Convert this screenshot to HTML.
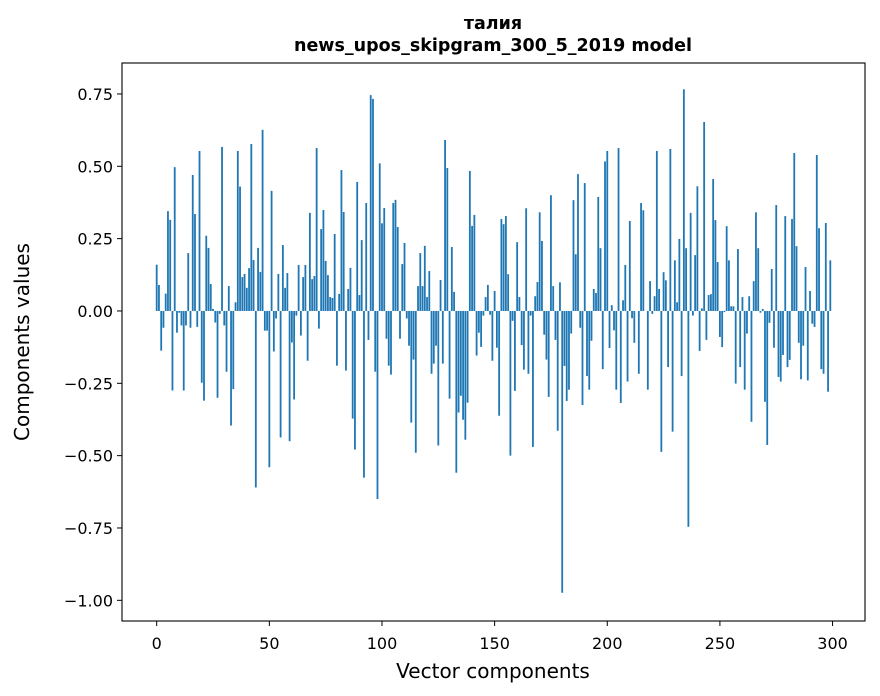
<!DOCTYPE html>
<html><head><meta charset="utf-8"><style>
html,body{margin:0;padding:0;background:#fff;}
svg{display:block;font-family:"DejaVu Sans","Liberation Sans",sans-serif;}
</style></head><body>
<svg id="chart" width="880" height="696" viewBox="0 0 880 696" xmlns="http://www.w3.org/2000/svg">
<rect x="0" y="0" width="880" height="696" fill="#fff"/>
<text x="493" y="29" text-anchor="middle" font-size="17.5" font-weight="bold">талия</text>
<text x="493" y="51" text-anchor="middle" font-size="17.5" font-weight="bold">news_upos_skipgram_300_5_2019 model</text>
<g id="bars"></g>
<g id="xticks"></g>
<g id="yticks"></g>
<rect x="122" y="63" width="743" height="558" fill="none" stroke="#000" stroke-width="1.1"/>
<text x="493" y="678" text-anchor="middle" font-size="20">Vector components</text>
<text x="29" y="342" text-anchor="middle" font-size="20" transform="rotate(-90 29 342)">Components values</text>
</svg>
<script>
const values = [
0.16,0.09,-0.137,-0.058,0.06,0.345,0.315,-0.275,0.497,-0.075,
-0.006,-0.05,-0.275,-0.05,0.2,-0.058,0.47,0.335,-0.055,0.553,
-0.248,-0.31,0.26,0.218,0.093,0.007,-0.04,-0.3,-0.01,0.567,
-0.05,-0.21,0.086,-0.396,-0.27,0.03,0.553,0.43,0.117,0.128,
0.08,0.148,0.577,0.176,-0.61,0.218,0.135,0.626,-0.068,-0.068,
-0.54,0.415,-0.14,-0.026,0.128,-0.437,0.228,0.08,0.131,-0.45,
-0.109,-0.306,-0.016,0.159,-0.085,0.117,0.159,-0.172,0.339,0.11,
0.121,0.563,-0.061,0.283,0.349,0.173,0.124,0.048,0.045,0.266,
-0.189,0.059,0.487,0.342,-0.206,0.076,0.149,-0.372,-0.479,0.446,
0.055,0.245,-0.576,0.373,-0.1,0.746,0.733,-0.21,-0.65,0.51,
0.303,0.356,-0.096,-0.189,-0.22,0.373,0.384,0.29,-0.096,0.162,
0.235,-0.026,-0.12,-0.386,-0.168,-0.49,0.086,0.2,0.086,0.225,
0.048,0.138,-0.217,-0.182,-0.12,-0.465,0.107,-0.182,0.591,0.494,
-0.303,0.221,0.066,-0.559,-0.351,-0.293,-0.376,-0.445,-0.317,0.484,
0.294,0.332,-0.154,-0.075,-0.124,-0.016,0.048,0.09,-0.013,-0.172,
0.069,-0.127,-0.362,0.318,0.30,0.328,0.127,-0.5,-0.034,-0.276,
0.238,0.048,-0.118,-0.203,0.355,-0.217,-0.016,-0.47,0.051,0.1,
0.341,0.242,-0.082,-0.168,-0.297,0.4,0.086,-0.1,-0.414,0.099,
-0.974,-0.19,-0.311,-0.272,-0.078,0.383,0.196,0.473,-0.058,-0.325,
0.442,-0.225,-0.272,-0.103,0.076,0.062,0.394,0.217,-0.201,0.517,
0.553,-0.128,0.02,-0.067,-0.272,0.563,-0.318,0.037,0.159,-0.244,
0.311,-0.025,-0.11,0.0,-0.217,0.373,0.348,0.0,-0.272,0.103,
-0.01,0.051,0.553,0.076,-0.487,0.134,0.106,-0.194,0.56,-0.417,
0.175,0.03,0.249,-0.225,0.766,0.217,-0.746,0.339,-0.016,0.193,
0.431,-0.138,0.009,0.653,-0.1,0.055,0.058,0.456,0.314,0.169,
-0.09,-0.125,-0.004,0.293,0.175,0.016,0.016,-0.251,0.214,-0.194,
0.048,-0.272,-0.078,0.051,-0.383,0.103,0.341,0.217,-0.006,0.007,
-0.314,-0.463,-0.041,0.145,-0.127,0.366,-0.228,-0.244,-0.152,0.328,
-0.194,-0.169,0.318,0.546,0.224,-0.11,-0.236,-0.12,0.152,-0.24,
0.069,-0.044,-0.055,0.539,0.286,-0.201,-0.217,0.304,-0.279,0.175
];
const xTicks = [0,50,100,150,200,250,300];
const yTicks = [0.75,0.5,0.25,0,-0.25,-0.5,-0.75,-1.0];
const yTickLabels = ["0.75","0.50","0.25","0.00","\u22120.25","\u22120.50","\u22120.75","\u22121.00"];

const L=122,R=865,T=63,B=621;
const xMin=-15.4,xMax=314.4,yMax=0.857,yMin=-1.0715;
const xs=v=>L+(v-xMin)/(xMax-xMin)*(R-L);
const ys=v=>T+(yMax-v)/(yMax-yMin)*(B-T);
const NS="http://www.w3.org/2000/svg";
const gb=document.getElementById('bars');
values.forEach((v,i)=>{
  const r=document.createElementNS(NS,'rect');
  const x0=xs(i-0.4),x1=xs(i+0.4);
  const y0=ys(Math.max(v,0)),y1=ys(Math.min(v,0));
  r.setAttribute('x',x0);r.setAttribute('width',x1-x0);
  r.setAttribute('y',y0);r.setAttribute('height',Math.max(y1-y0,0.01));
  r.setAttribute('fill','#1f77b4');
  
  
  gb.appendChild(r);
});
const gx=document.getElementById('xticks');
xTicks.forEach(t=>{
  const x=xs(t);
  const l=document.createElementNS(NS,'line');
  l.setAttribute('x1',x);l.setAttribute('x2',x);l.setAttribute('y1',B);l.setAttribute('y2',B+5);
  l.setAttribute('stroke','#000');
  
  
  gx.appendChild(l);
  const tx=document.createElementNS(NS,'text');
  tx.setAttribute('x',x);tx.setAttribute('y',B+28);tx.setAttribute('text-anchor','middle');tx.setAttribute('font-size','16');
  tx.textContent=String(t);
  
  
  gx.appendChild(tx);
});
const gy=document.getElementById('yticks');
yTicks.forEach((t,k)=>{
  const y=ys(t);
  const l=document.createElementNS(NS,'line');
  l.setAttribute('x1',L-5);l.setAttribute('x2',L);l.setAttribute('y1',y);l.setAttribute('y2',y);
  l.setAttribute('stroke','#000');
  
  
  gy.appendChild(l);
  const tx=document.createElementNS(NS,'text');
  tx.setAttribute('x',L-9);tx.setAttribute('y',y+6);tx.setAttribute('text-anchor','end');tx.setAttribute('font-size','16');
  tx.textContent=yTickLabels[k];
  
  
  gy.appendChild(tx);
});
</script>
</body></html>
